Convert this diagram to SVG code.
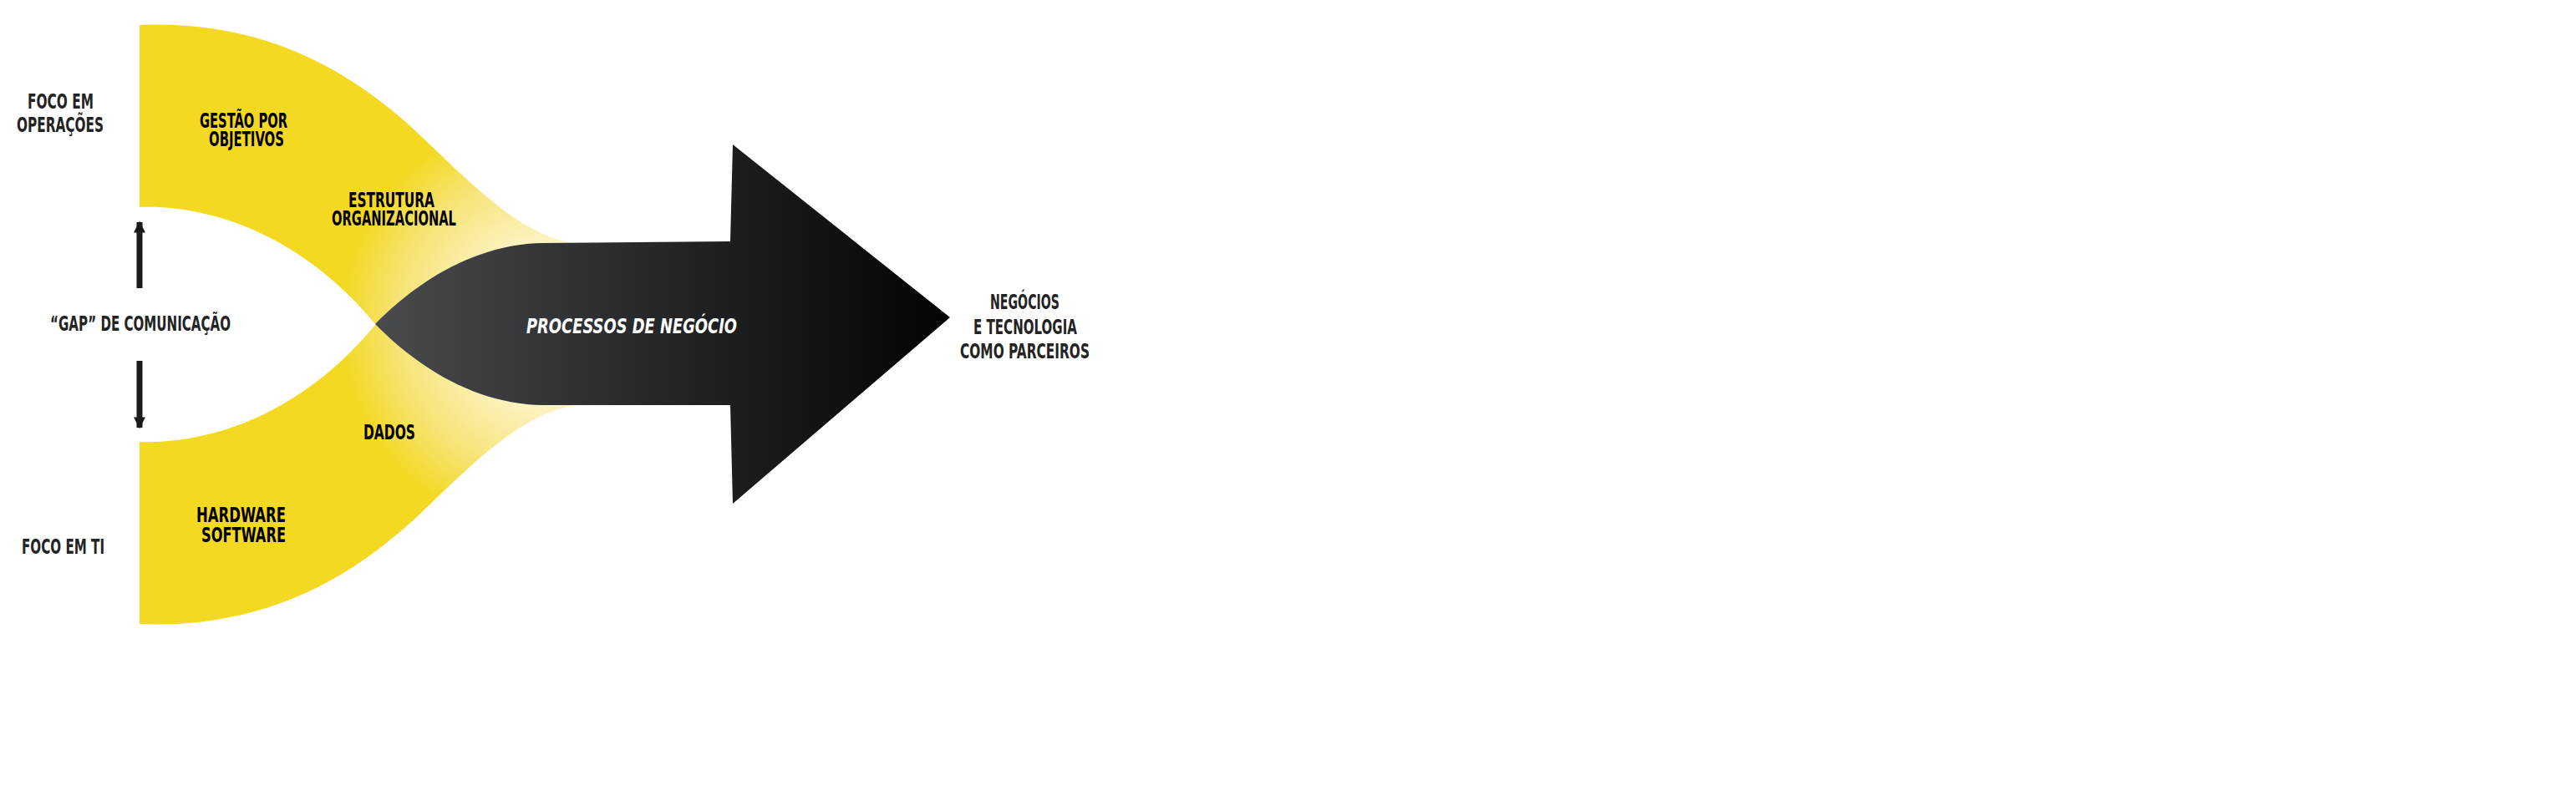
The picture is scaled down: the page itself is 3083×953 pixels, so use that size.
<svg xmlns="http://www.w3.org/2000/svg" width="3083" height="953" viewBox="0 0 3083 953">
<style>
.t{font-family:"Liberation Sans Narrow","DejaVu Sans Condensed","Liberation Sans",sans-serif;font-weight:bold;font-size:24px;}
.ext{fill:#232323;}
.int{fill:#000;}
.pro{fill:#fff;font-style:italic;}
</style>
<defs>
<radialGradient id="yg" gradientUnits="userSpaceOnUse" cx="660" cy="388" r="300">
<stop offset="0" stop-color="#fffbe8"/>
<stop offset="0.33" stop-color="#fcf3c2"/>
<stop offset="0.62" stop-color="#f7e375"/>
<stop offset="0.84" stop-color="#f3d922"/>
<stop offset="1" stop-color="#f3d922"/>
</radialGradient>
<linearGradient id="dg" gradientUnits="userSpaceOnUse" x1="449" y1="388" x2="1137" y2="388">
<stop offset="0" stop-color="#4a4b4f"/>
<stop offset="0.5" stop-color="#252628"/>
<stop offset="1" stop-color="#030303"/>
</linearGradient>
<marker id="ah" viewBox="0 0 10 10" refX="9" refY="5" markerWidth="2" markerHeight="2" orient="auto" markerUnits="strokeWidth">
<path d="M0,0 L10,5 L0,10 Z" fill="#1a1a1a"/>
</marker>
</defs>
<rect width="3083" height="953" fill="#fff"/>
<g id="foco-operacoes">
<path d="M167,30 C300,25 400,70 490,150 C560,215 620,282 690,292 L700,388 L449,388 C360,280 250,245 167,248 Z" fill="url(#yg)"/>
</g>
<g id="foco-ti">
<path d="M167,747 C300,752 400,707 490,627 C560,562 620,495 690,485 L700,389 L449,389 C360,497 250,532 167,529 Z" fill="url(#yg)"/>
</g>
<g id="processos">
<path d="M449,388 C500,336 570,292 650,291 L874,289 L877,173 L1137,380 L877,603 L874,485 L650,485 C570,484 500,440 449,388 Z" fill="url(#dg)"/>
</g>
<g id="connectors">
<line x1="167" y1="345" x2="167" y2="266" stroke="#1a1a1a" stroke-width="7" marker-end="url(#ah)"/>
<line x1="167" y1="432" x2="167" y2="512" stroke="#1a1a1a" stroke-width="7" marker-end="url(#ah)"/>
</g>
<g id="labels">
<text class="t ext" x="33" y="130" textLength="79" lengthAdjust="spacingAndGlyphs">FOCO EM</text>
<text class="t ext" x="20" y="158" textLength="104" lengthAdjust="spacingAndGlyphs">OPERAÇÕES</text>
<text class="t int" x="239" y="153" textLength="105" lengthAdjust="spacingAndGlyphs">GESTÃO POR</text>
<text class="t int" x="250" y="175" textLength="90" lengthAdjust="spacingAndGlyphs">OBJETIVOS</text>
<text class="t int" x="417" y="248" textLength="103" lengthAdjust="spacingAndGlyphs">ESTRUTURA</text>
<text class="t int" x="397" y="270" textLength="149" lengthAdjust="spacingAndGlyphs">ORGANIZACIONAL</text>
<text class="t ext" x="60" y="396" textLength="216" lengthAdjust="spacingAndGlyphs">“GAP” DE COMUNICAÇÃO</text>
<text class="t pro" x="630" y="399" textLength="252" lengthAdjust="spacingAndGlyphs">PROCESSOS DE NEGÓCIO</text>
<text class="t int" x="435" y="526" textLength="62" lengthAdjust="spacingAndGlyphs">DADOS</text>
<text class="t int" x="235" y="625" textLength="107" lengthAdjust="spacingAndGlyphs">HARDWARE</text>
<text class="t int" x="241" y="649" textLength="101" lengthAdjust="spacingAndGlyphs">SOFTWARE</text>
<text class="t ext" x="26" y="663" textLength="99" lengthAdjust="spacingAndGlyphs">FOCO EM TI</text>
<text class="t ext" x="1185" y="370" textLength="83" lengthAdjust="spacingAndGlyphs">NEGÓCIOS</text>
<text class="t ext" x="1165" y="400" textLength="124" lengthAdjust="spacingAndGlyphs">E TECNOLOGIA</text>
<text class="t ext" x="1149" y="429" textLength="155" lengthAdjust="spacingAndGlyphs">COMO PARCEIROS</text>
</g>
</svg>
